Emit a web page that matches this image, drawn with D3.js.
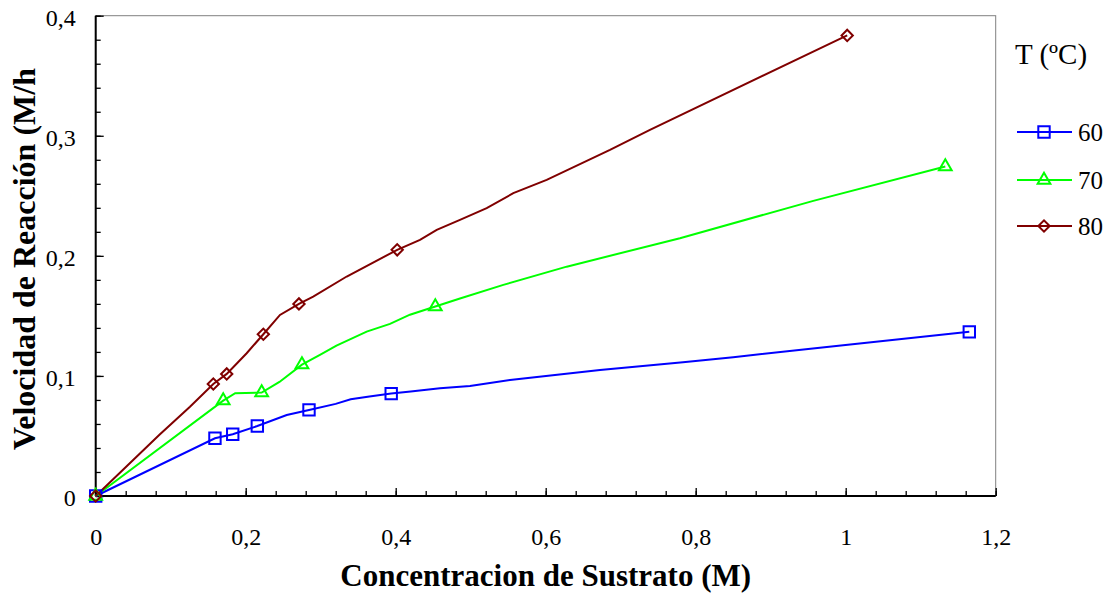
<!DOCTYPE html>
<html lang="es">
<head>
<meta charset="UTF-8">
<title>Velocidad de Reacción vs Concentración</title>
<script src="https://d3js.org/d3.v7.min.js"></script>
<style>
    body { margin: 0; background: #fff; }
    svg, svg text { font-family: "Liberation Serif", "Times New Roman", "DejaVu Serif", serif !important; }
</style>
</head>
<body>
<div id="chart"></div>
<script>
    // series (T en ºC)
    const seriesNames = ["60", "70", "80"];
    const seriesColors = ["#0000ff", "#00ff00", "#800000"];
    const seriesSymbols = ["square", "triangle", "diamond"];

    // experimental points (markers)
    const marks60 = [[0, 0], [0.159, 0.0481], [0.1827, 0.0514], [0.2155, 0.0583], [0.2844, 0.0717], [0.394, 0.0853], [1.1648, 0.1367]];
    const marks70 = [[0, 0], [0.170, 0.0794], [0.2213, 0.0861], [0.275, 0.1094], [0.4528, 0.1578], [1.1328, 0.2744]];
    const marks80 = [[0, 0], [0.1568, 0.0933], [0.1747, 0.1017], [0.2235, 0.1347], [0.271, 0.160], [0.402, 0.205], [1.002, 0.3836]];

    // drawn curves
    const line60 = [[0, 0], [0.159, 0.0481], [0.1827, 0.0514], [0.2155, 0.0583], [0.2547, 0.0675], [0.2844, 0.0717],
        [0.32, 0.0767], [0.34, 0.0805], [0.365, 0.0828], [0.394, 0.0853], [0.42, 0.087], [0.459, 0.0897], [0.499, 0.0917],
        [0.5524, 0.0967], [0.6724, 0.105], [0.783, 0.1114], [0.85, 0.1155], [0.95, 0.1225], [1.1648, 0.1367]];
    const line70 = [[0, 0], [0.170, 0.0794], [0.186, 0.0856], [0.2213, 0.0861], [0.245, 0.095], [0.275, 0.1094],
        [0.299, 0.1175], [0.321, 0.1253], [0.3613, 0.1369], [0.3924, 0.1433], [0.419, 0.151], [0.4528, 0.1578],
        [0.4857, 0.1645], [0.5435, 0.1758], [0.628, 0.191], [0.779, 0.2147], [0.9568, 0.2458], [1.1328, 0.2744]];
    const line80 = [[0, 0], [0.085, 0.051], [0.1257, 0.0744], [0.1568, 0.0933], [0.1747, 0.1017], [0.2013, 0.1189],
        [0.2235, 0.1347], [0.2457, 0.1508], [0.271, 0.160], [0.290, 0.166], [0.3347, 0.1828], [0.402, 0.205],
        [0.4324, 0.2133], [0.4547, 0.2217], [0.4857, 0.23], [0.5213, 0.2397], [0.5568, 0.2522], [0.6013, 0.2633],
        [0.6857, 0.2883], [0.739, 0.305], [1.002, 0.3836]];

    const xTicks = [0, 0.2, 0.4, 0.6, 0.8, 1, 1.2];
    const yTicks = [0, 0.1, 0.2, 0.3, 0.4];
    const xMinor = d3.range(0, 31).map(i => i * 0.04);
    const yMinor = d3.range(0, 21).map(i => i * 0.02);

    const W = 1120, H = 595;
    const margin = { top: 15.7, right: 124.3, bottom: 99, left: 95.7 };
    const w = W - margin.left - margin.right;
    const h = H - margin.top - margin.bottom;
    const serif = "'Liberation Serif', 'Times New Roman', serif";

    const svg = d3.select("#chart").append("svg").attr("width", W).attr("height", H)
        .style("font-family", serif);
    const g = svg.append("g").attr("transform", `translate(${margin.left},${margin.top})`);

    const x = d3.scaleLinear().domain([0, 1.2]).range([0, w]);
    const y = d3.scaleLinear().domain([0, 0.4]).range([h, 0]);

    const comma = d => String(+d.toFixed(2)).replace(".", ",");

    // frame (top / right grey)
    g.append("rect").attr("width", w).attr("height", h)
        .attr("fill", "none").attr("stroke", "#808080").attr("stroke-width", 1);

    // minor ticks
    g.append("g").attr("transform", `translate(0,${h})`)
        .call(d3.axisBottom(x).tickValues(xMinor).tickSize(-5).tickFormat(""))
        .call(s => s.select(".domain").remove())
        .selectAll("line").attr("stroke-width", 1.3);
    g.append("g")
        .call(d3.axisLeft(y).tickValues(yMinor).tickSize(-5).tickFormat(""))
        .call(s => s.select(".domain").remove())
        .selectAll("line").attr("stroke-width", 1.3);

    // major ticks + labels
    const xAxis = g.append("g").attr("transform", `translate(0,${h})`)
        .call(d3.axisBottom(x).tickValues(xTicks).tickSize(-8).tickPadding(32).tickFormat(comma));
    const yAxis = g.append("g")
        .call(d3.axisLeft(y).tickValues(yTicks).tickSize(-8).tickPadding(20).tickFormat(comma));
    [xAxis, yAxis].forEach(a => {
        a.attr("font-family", null).attr("font-size", null);
        a.select(".domain").remove();
        a.selectAll("line").attr("stroke-width", 1.3);
        a.selectAll("text").style("font-family", serif).attr("font-size", 24).attr("fill", "#000");
    });
    yAxis.selectAll("text").attr("dy", "0.4em");

    // axis lines
    g.append("line").attr("x1", 0).attr("x2", 0).attr("y1", 0).attr("y2", h).attr("stroke", "#000").attr("stroke-width", 2);
    g.append("line").attr("x1", 0).attr("x2", w).attr("y1", h).attr("y2", h).attr("stroke", "#000").attr("stroke-width", 2);

    const symbolPath = {
        square: d3.symbol(d3.symbolSquare, 130)(),
        triangle: d3.symbol(d3.symbolTriangle, 70)(),
        diamond: d3.symbol(d3.symbolSquare, 64)()
    };
    const symbolRotate = { square: 0, triangle: 0, diamond: 45 };

    const lines = [line60, line70, line80];
    const marks = [marks60, marks70, marks80];
    const lineGen = d3.line().x(d => x(d[0])).y(d => y(d[1]));

    lines.forEach((pts, i) => {
        g.append("path").datum(pts).attr("d", lineGen)
            .attr("fill", "none").attr("stroke", seriesColors[i]).attr("stroke-width", 2);
    });
    marks.forEach((pts, i) => {
        const s = seriesSymbols[i];
        g.append("g").selectAll("path").data(pts).join("path")
            .attr("d", symbolPath[s])
            .attr("transform", d => `translate(${x(d[0])},${y(d[1])}) rotate(${symbolRotate[s]})`)
            .attr("fill", "none").attr("stroke", seriesColors[i]).attr("stroke-width", 2);
    });

    // axis titles
    svg.append("text").attr("x", margin.left + w / 2).attr("y", 586)
        .attr("text-anchor", "middle").attr("font-weight", "bold").attr("font-size", 31)
        .text("Concentracion de Sustrato (M)");
    svg.append("text").attr("transform", "translate(35,259) rotate(-90)")
        .attr("text-anchor", "middle").attr("font-weight", "bold").attr("font-size", 32)
        .text("Velocidad de Reacción (M/h");

    // legend
    const leg = svg.append("g");
    leg.append("text").attr("x", 1015).attr("y", 64).attr("font-size", 29).text("T (ºC)");
    const legY = [132, 180, 226];
    seriesNames.forEach((name, i) => {
        const s = seriesSymbols[i];
        leg.append("line").attr("x1", 1017).attr("x2", 1072).attr("y1", legY[i]).attr("y2", legY[i])
            .attr("stroke", seriesColors[i]).attr("stroke-width", 2);
        leg.append("path").attr("d", symbolPath[s])
            .attr("transform", `translate(1044,${legY[i]}) rotate(${symbolRotate[s]})`)
            .attr("fill", "none").attr("stroke", seriesColors[i]).attr("stroke-width", 2);
        leg.append("text").attr("x", 1078).attr("y", legY[i]).attr("dy", "0.35em")
            .attr("font-size", 25).text(name);
    });
</script>
</body>
</html>
